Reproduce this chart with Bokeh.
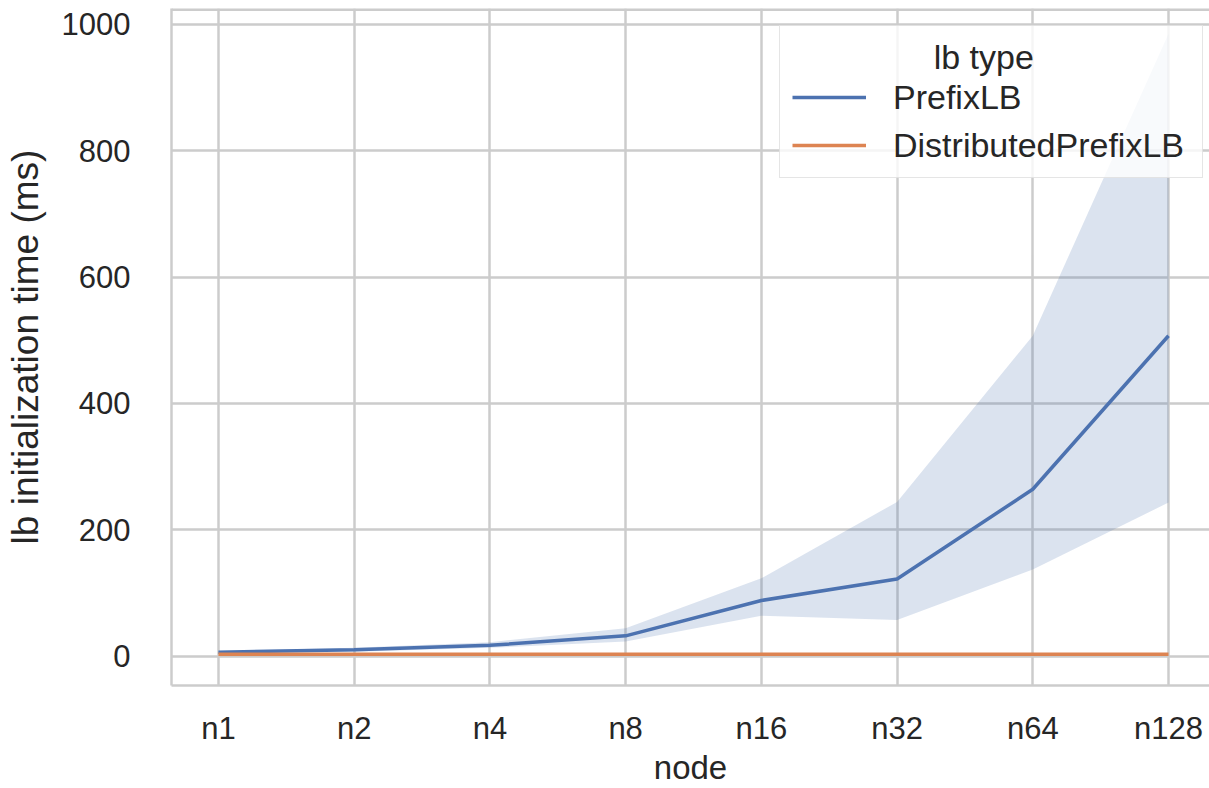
from bokeh.plotting import figure
from bokeh.models import (Range1d, FixedTicker, Legend, LegendItem, Span,
                          ColumnDataSource)
from bokeh.embed import file_html
from bokeh.resources import INLINE

# ---- data ----
nodes = ["n1", "n2", "n4", "n8", "n16", "n32", "n64", "n128"]
prefix_mean = [6, 10, 17, 32, 88, 122, 264, 507]
prefix_lo = [4, 7, 13, 23, 64, 57, 137, 243]
prefix_hi = [8, 13, 22, 44, 123, 244, 507, 985]
dist_mean = [3, 3, 3, 3, 3, 3, 3, 3]
y_ticks = [0, 200, 400, 600, 800, 1000]
legend_title = "lb type"
series_names = ["PrefixLB", "DistributedPrefixLB"]

BLUE = "#4c72b0"
ORANGE = "#dd8452"
GRID = "#cccccc"
TEXT = "#262626"
FONT = "Liberation Sans"

xs = list(range(len(nodes)))
src = ColumnDataSource(dict(x=xs, mean=prefix_mean, lo=prefix_lo, hi=prefix_hi, dist=dist_mean))

p = figure(width=1209, height=788, output_backend="svg", toolbar_location=None,
           x_range=Range1d(-0.346, 7.302), y_range=Range1d(-46.6, 1025),
           min_border_left=171, min_border_right=0, min_border_top=8, min_border_bottom=101)
p.background_fill_color = "white"
p.border_fill_color = "white"
p.outline_line_color = None

band = p.varea(x="x", y1="lo", y2="hi", source=src, fill_color=BLUE, fill_alpha=0.2)
l1 = p.line(x="x", y="mean", source=src, line_color=BLUE, line_width=3.5)
l2 = p.line(x="x", y="dist", source=src, line_color=ORANGE, line_width=3.5)

# axes
p.xaxis.ticker = FixedTicker(ticks=xs)
p.xaxis.major_label_overrides = {i: n for i, n in enumerate(nodes)}
p.yaxis.ticker = FixedTicker(ticks=y_ticks)
p.xaxis.axis_label = "node"
p.yaxis.axis_label = "lb initialization time (ms)"
for ax in (p.xaxis[0], p.yaxis[0]):
    ax.axis_line_color = GRID
    ax.axis_line_width = 2.5
    ax.major_tick_line_color = None
    ax.minor_tick_line_color = None
    ax.major_label_text_font = FONT
    ax.major_label_text_font_size = "31px"
    ax.major_label_text_color = TEXT
    ax.axis_label_text_font = FONT
    ax.axis_label_text_font_style = "normal"
    ax.axis_label_text_color = TEXT
p.xaxis.major_label_standoff = 19
p.xaxis.axis_label_standoff = 0
p.xaxis.axis_label_text_font_size = "33px"
p.yaxis.major_label_standoff = 35
p.yaxis.axis_label_standoff = 13
p.yaxis.axis_label_text_font_size = "37px"

p.xgrid.grid_line_color = GRID
p.xgrid.grid_line_width = 2.5
p.ygrid.grid_line_color = GRID
p.ygrid.grid_line_width = 2.5

# top spine
p.add_layout(Span(location=1025, dimension="width", line_color=GRID, line_width=5))

# legend (title pushed toward the centre with non-breaking spaces)
legend = Legend(items=[LegendItem(label=series_names[0], renderers=[l1]),
                       LegendItem(label=series_names[1], renderers=[l2])],
                location=(608, 507), title="\u00a0" * 15 + legend_title,
                title_text_font=FONT, title_text_font_size="34px", title_text_color=TEXT,
                title_text_font_style="normal", title_standoff=0,
                label_text_font=FONT, label_text_font_size="34px", label_text_color=TEXT,
                glyph_width=74, glyph_height=40, label_height=40, label_width=297, spacing=8,
                label_standoff=27, padding=12,
                background_fill_color="white", background_fill_alpha=0.8,
                border_line_color=GRID, border_line_width=1.5)
p.add_layout(legend)

open("out.html", "w").write(file_html(p, INLINE))
